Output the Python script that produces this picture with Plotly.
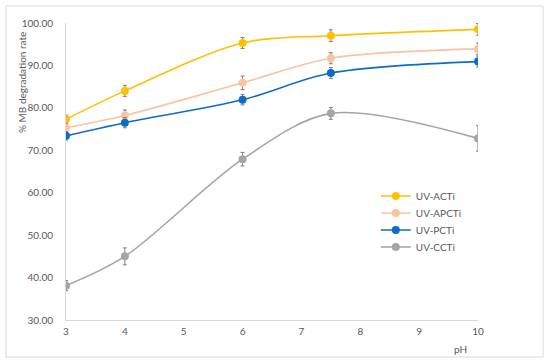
import plotly.graph_objects as go

ph = [3, 4, 6, 7.5, 10]
series_names = ["UV-ACTi", "UV-APCTi", "UV-PCTi", "UV-CCTi"]
acti = [77.3, 84.0, 95.3, 97.0, 98.5]
apcti = [75.3, 78.2, 85.9, 91.7, 93.9]
pcti = [73.4, 76.5, 81.9, 88.2, 90.9]
ccti = [38.1, 45.0, 67.9, 78.7, 72.8]
acti_err = [1.0, 1.3, 1.3, 1.4, 1.4]
apcti_err = [1.0, 1.3, 1.6, 1.3, 1.4]
pcti_err = [1.0, 1.2, 1.2, 1.3, 1.3]
ccti_err = [1.2, 2.0, 1.6, 1.4, 3.0]
colors = ["#FFC000", "#F8C4A2", "#0F6CC4", "#A5A5A5"]
y_ticks = [30, 40, 50, 60, 70, 80, 90, 100]
x_ticks = [3, 4, 5, 6, 7, 8, 9, 10]

FONT = "Lato, 'Liberation Sans', sans-serif"
legend_ids = ["legend", "legend2", "legend3", "legend4"]
legend_centers_px = [196, 213, 230, 247]

fig = go.Figure()
for name, vals, err, col, lid in zip(series_names, [acti, apcti, pcti, ccti],
                                     [acti_err, apcti_err, pcti_err, ccti_err],
                                     colors, legend_ids):
    fig.add_trace(go.Scatter(
        x=ph, y=vals, name=name, mode="lines+markers", legend=lid,
        line=dict(color=col, width=1.6, shape="spline", smoothing=0.9),
        marker=dict(color=col, size=8),
        error_y=dict(type="data", array=err, visible=True, color="#7F7F7F",
                     thickness=1, width=2),
    ))

legend_layout = {}
for lid, cy in zip(legend_ids, legend_centers_px):
    legend_layout[lid] = dict(x=0.752, y=(320 - cy) / 297, xanchor="left",
                              yanchor="middle", bgcolor="rgba(0,0,0,0)",
                              font=dict(size=10, color="#595959"), itemwidth=30)

fig.update_layout(
    width=550, height=364,
    margin=dict(l=66, r=72, t=23, b=44),
    paper_bgcolor="white", plot_bgcolor="white",
    font=dict(family=FONT, size=10, color="#595959"),
    showlegend=True,
    xaxis=dict(range=[3, 10], tickvals=x_ticks, showgrid=False, zeroline=False,
               showline=True, linecolor="#D9D9D9", linewidth=1, ticks="",
               ticklabelstandoff=2,
               tickfont=dict(size=10, color="#595959")),
    yaxis=dict(range=[30, 100], tickvals=y_ticks, tickformat=".2f", showgrid=False,
               zeroline=False, showline=True, linecolor="#D9D9D9", linewidth=1,
               ticks="", ticklabelstandoff=10,
               tickfont=dict(size=10, color="#595959")),
    annotations=[
        dict(text="% MB degradation rate", xref="paper", yref="paper",
             x=(22 - 66) / 412, y=(320 - 83) / 297, textangle=-90,
             showarrow=False, font=dict(size=10, color="#595959"),
             xanchor="center", yanchor="middle"),
        dict(text="pH", xref="paper", yref="paper",
             x=(460 - 66) / 412, y=(320 - 349) / 297, showarrow=False,
             font=dict(size=10, color="#595959"), xanchor="center", yanchor="middle"),
    ],
    shapes=[dict(type="rect", xref="paper", yref="paper",
                 x0=(6 - 66) / 412, x1=(543 - 66) / 412,
                 y0=(320 - 357) / 297, y1=(320 - 6) / 297,
                 line=dict(color="#D9D9D9", width=1), fillcolor="rgba(0,0,0,0)",
                 layer="below")],
    **legend_layout,
)
fig.write_html("out.html", config={"displayModeBar": False},
               post_script="document.body.style.margin='0px';")
